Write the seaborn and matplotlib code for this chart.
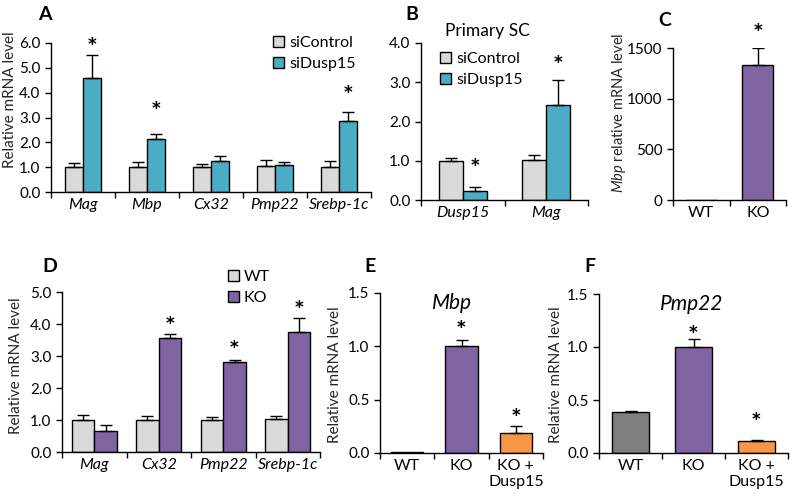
import numpy as np
import pandas as pd
import matplotlib
matplotlib.use("Agg")
import matplotlib.pyplot as plt
import matplotlib.transforms as mtransforms
import seaborn as sns
from matplotlib.patches import Patch
from matplotlib.ticker import FormatStrFormatter

# ---- panel A: Schwann cell line, siRNA ----
genes_a = ["Mag", "Mbp", "Cx32", "Pmp22", "Srebp-1c"]
sictrl_a = [1.0, 1.0, 1.0, 1.03, 1.0]
sictrl_a_sem = [0.15, 0.2, 0.12, 0.25, 0.24]
sidusp_a = [4.58, 2.12, 1.23, 1.07, 2.85]
sidusp_a_sem = [0.95, 0.21, 0.22, 0.14, 0.38]
stars_a = [(0, 1), (1, 1), (4, 1)]
stars_a_y = [6.05, 3.45, 4.1]

# ---- panel B: primary SC ----
genes_b = ["Dusp15", "Mag"]
sictrl_b = [1.0, 1.01]
sictrl_b_sem = [0.07, 0.13]
sidusp_b = [0.24, 2.42]
sidusp_b_sem = [0.1, 0.64]
stars_b = [(0, 1), (1, 1)]
stars_b_y = [0.94, 3.57]

# ---- panel C: Mbp WT vs KO ----
groups_c = ["WT", "KO"]
mbp_c = [1.0, 1330]
mbp_c_sem = [0, 170]
stars_c = [(1, 0)]
stars_c_y = [1697]

# ---- panel D: nerve WT vs KO ----
genes_d = ["Mag", "Cx32", "Pmp22", "Srebp-1c"]
wt_d = [1.0, 1.0, 1.0, 1.03]
wt_d_sem = [0.16, 0.13, 0.1, 0.1]
ko_d = [0.65, 3.56, 2.80, 3.74]
ko_d_sem = [0.19, 0.12, 0.08, 0.44]
stars_d = [(1, 1), (2, 1), (3, 1)]
stars_d_y = [4.1, 3.34, 4.6]

# ---- panels E / F: rescue ----
groups_ef = ["WT", "KO", "KO +\nDusp15"]
mbp_e = [0.005, 1.0, 0.19]
mbp_e_sem = [0, 0.06, 0.06]
stars_e = [(1, 0), (2, 0)]
stars_e_y = [1.2, 0.375]
pmp22_f = [0.384, 1.0, 0.113]
pmp22_f_sem = [0.016, 0.075, 0.013]
stars_f = [(1, 0), (2, 0)]
stars_f_y = [1.16, 0.34]

LIGHT = "#D9D9D9"
BLUE = "#4BACC6"
PURPLE = "#8064A2"
ORANGE = "#F79646"
GRAY = "#7F7F7F"

sns.set_style("ticks")
plt.rcParams["font.family"] = ["Lato", "DejaVu Sans"]
plt.rcParams.update({
    "mathtext.fontset": "custom",
    "mathtext.rm": "Lato",
    "mathtext.it": "Lato:italic",
    "axes.linewidth": 1.0,
    "axes.edgecolor": "black",
    "xtick.color": "black",
    "ytick.color": "black",
    "text.color": "black",
})

W, H = 800, 503
fig = plt.figure(figsize=(W / 100, H / 100), dpi=100)


def px_axes(left, top, right, bottom):
    return fig.add_axes([left / W, 1 - bottom / H, (right - left) / W, (bottom - top) / H])


def grouped(ax, cats, names, vals, sems, colors, width):
    rows = []
    for name, v in zip(names, vals):
        for c, y in zip(cats, v):
            rows.append({"cat": c, "group": name, "val": y})
    df = pd.DataFrame(rows)
    sns.barplot(data=df, x="cat", y="val", hue="group", palette=colors, width=width,
                edgecolor="black", linewidth=1, saturation=1, legend=False, ax=ax)
    bars = [list(c) for c in ax.containers]
    add_err(ax, bars, sems)
    return bars


def single(ax, cats, vals, sems, colors, width):
    df = pd.DataFrame({"cat": cats, "val": vals})
    sns.barplot(data=df, x="cat", y="val", hue="cat", palette=colors, width=width,
                edgecolor="black", linewidth=1, saturation=1, legend=False, ax=ax)
    bars = [[c[0] for c in ax.containers]]
    add_err(ax, bars, [sems])
    return bars


def add_err(ax, bars, sems):
    for row, sem in zip(bars, sems):
        for b, s in zip(row, sem):
            if s <= 0:
                continue
            x = b.get_x() + b.get_width() / 2
            ax.errorbar(x, b.get_height(), yerr=[[0], [s]], color="black", lw=1,
                        capsize=4, capthick=1, zorder=1)


def add_stars(ax, bars, idx, ys):
    # asterisk ink sits high in the text box, nudge it down
    shift = mtransforms.ScaledTranslation(0, -4.5 / 72, fig.dpi_scale_trans)
    for (i, h), y in zip(idx, ys):
        b = bars[h][i]
        ax.text(b.get_x() + b.get_width() / 2, y, "*", ha="center", va="center",
                fontsize=18, fontweight="bold", clip_on=False,
                transform=ax.transData + shift)


def style(ax, ymax, yticks, fmt, n, italic=True):
    sns.despine(ax=ax)
    ax.set_ylim(0, ymax)
    ax.set_yticks(yticks)
    ax.yaxis.set_major_formatter(FormatStrFormatter(fmt))
    ax.set_xlim(-0.5, n - 0.5)
    ax.set_xticks(np.arange(n + 1) - 0.5, minor=True)
    ax.tick_params(axis="x", which="major", length=0, pad=4, labelsize=11.5)
    ax.tick_params(axis="x", which="minor", length=4, width=1, direction="out")
    ax.tick_params(axis="y", length=4, width=1, labelsize=11)
    if italic:
        for t in ax.get_xticklabels():
            t.set_fontstyle("italic")
    ax.set_xlabel("")
    ax.set_ylabel("")


def legend(ax, labels, colors, x, y):
    handles = [Patch(facecolor=c, edgecolor="black", linewidth=1) for c in colors]
    ax.legend(handles, labels, loc="upper left", bbox_to_anchor=(x / W, 1 - y / H),
              bbox_transform=fig.transFigure, frameon=False, fontsize=11.5,
              handlelength=0.7, handleheight=0.7, handletextpad=0.3,
              labelspacing=0.4, borderpad=0, borderaxespad=0)


# A
ax = px_axes(51, 43, 371, 192)
bars = grouped(ax, genes_a, ["siControl", "siDusp15"], [sictrl_a, sidusp_a],
               [sictrl_a_sem, sidusp_a_sem], [LIGHT, BLUE], 0.57)
style(ax, 6, np.arange(0, 7, 1.0), "%.1f", len(genes_a))
add_stars(ax, bars, stars_a, stars_a_y)
ax.set_ylabel("Relative mRNA level", fontsize=11)
ax.yaxis.set_label_coords(-34 / 320, 0.62)
legend(ax, ["siControl", "siDusp15"], [LIGHT, BLUE], 273, 36)

# B
ax = px_axes(421, 43, 588, 200)
bars = grouped(ax, genes_b, ["siControl", "siDusp15"], [sictrl_b, sidusp_b],
               [sictrl_b_sem, sidusp_b_sem], [LIGHT, BLUE], 0.57)
style(ax, 4, np.arange(0, 5, 1.0), "%.1f", len(genes_b))
add_stars(ax, bars, stars_b, stars_b_y)
ax.text(0.40, 1.075, "Primary SC", transform=ax.transAxes, ha="center", va="center", fontsize=12.5)
legend(ax, ["siControl", "siDusp15"], [LIGHT, BLUE], 440, 52)

# C
ax = px_axes(673, 48, 786, 200)
bars = single(ax, groups_c, mbp_c, mbp_c_sem, [LIGHT, PURPLE], 0.55)
style(ax, 1500, [0, 500, 1000, 1500], "%d", len(groups_c), italic=False)
add_stars(ax, bars, stars_c, stars_c_y)
ax.set_ylabel(r"$\mathit{Mbp}$ relative mRNA level", fontsize=10.5)
ax.yaxis.set_label_coords(-45 / 113, 0.57)

# D
ax = px_axes(62, 292, 320, 452)
bars = grouped(ax, genes_d, ["WT", "KO"], [wt_d, ko_d], [wt_d_sem, ko_d_sem],
               [LIGHT, PURPLE], 0.7)
style(ax, 5, np.arange(0, 6, 1.0), "%.1f", len(genes_d))
add_stars(ax, bars, stars_d, stars_d_y)
ax.set_ylabel("Relative mRNA level", fontsize=11)
ax.yaxis.set_label_coords(-39 / 258, 0.54)
legend(ax, ["WT", "KO"], [LIGHT, PURPLE], 228, 270)

# E
ax = px_axes(380, 293, 543, 453)
bars = single(ax, groups_ef, mbp_e, mbp_e_sem, [LIGHT, PURPLE, ORANGE], 0.6)
style(ax, 1.5, [0, 0.5, 1.0, 1.5], "%.1f", len(groups_ef), italic=False)
add_stars(ax, bars, stars_e, stars_e_y)
ax.text(0.44, 0.94, "Mbp", transform=ax.transAxes, ha="center", va="center",
        fontsize=15, fontstyle="italic")
ax.set_ylabel("Relative mRNA level", fontsize=11)
ax.yaxis.set_label_coords(-38 / 163, 0.49)

# F
ax = px_axes(599, 294, 788, 453)
bars = single(ax, groups_ef, pmp22_f, pmp22_f_sem, [GRAY, PURPLE, ORANGE], 0.59)
style(ax, 1.5, [0, 0.5, 1.0, 1.5], "%.1f", len(groups_ef), italic=False)
add_stars(ax, bars, stars_f, stars_f_y)
ax.text(0.49, 0.94, "Pmp22", transform=ax.transAxes, ha="center", va="center",
        fontsize=15, fontstyle="italic")
ax.set_ylabel("Relative mRNA level", fontsize=11)
ax.yaxis.set_label_coords(-36 / 189, 0.49)

# panel letters
for lab, x, y in [("A", 45, 15), ("B", 412, 14), ("C", 665, 20),
                  ("D", 50, 267), ("E", 370, 267), ("F", 590, 267)]:
    fig.text(x / W, 1 - y / H, lab, ha="center", va="center", fontsize=14, fontweight="bold")

fig.savefig("out.png", dpi=100)
